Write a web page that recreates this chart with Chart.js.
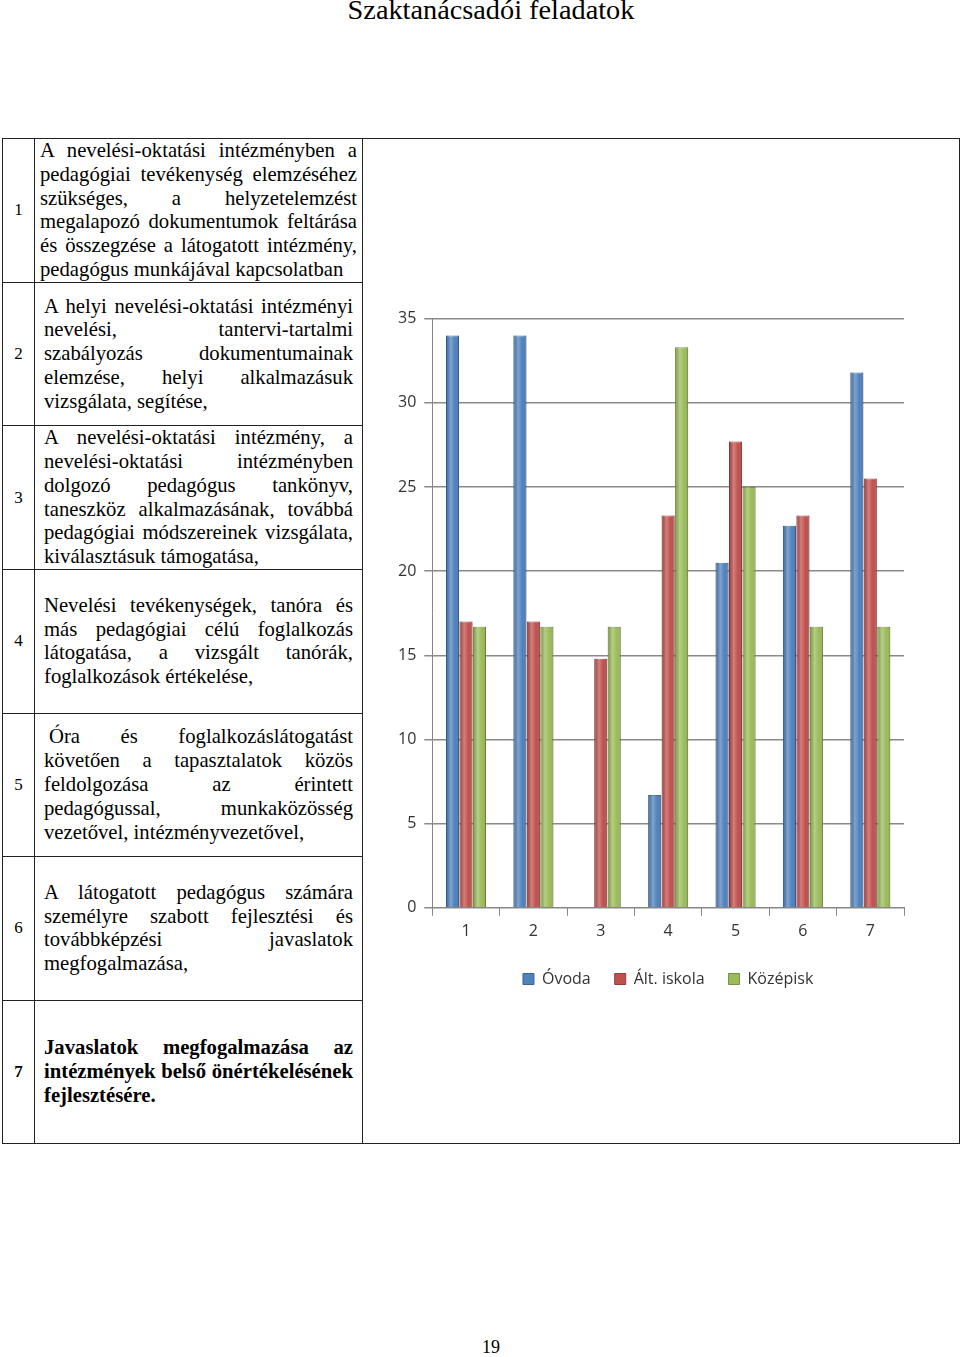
<!DOCTYPE html>
<html lang="hu">
<head>
  <meta charset="UTF-8">
  <title>Szaktanácsadói feladatok</title>
  <script src="https://cdn.jsdelivr.net/npm/chart.js"></script>
  <style>
    body {
      margin: 0;
      background: #fff;
      font-family: "Liberation Serif", "Times New Roman", serif;
      color: #000;
      position: relative;
      width: 960px;
      height: 1357px;
      overflow: hidden;
    }

    h1 {
      position: absolute;
      top: -6px;
      left: 0;
      width: 982px;
      margin: 0;
      text-align: center;
      font-size: 28.3px;
      font-weight: normal;
    }

    table {
      position: absolute;
      top: 138px;
      left: 2px;
      border-collapse: collapse;
      table-layout: fixed;
      width: 958px;
    }

    td {
      border: 1.5px solid #222;
      padding: 0;
      vertical-align: middle;
    }

    td.num {
      text-align: center;
      font-size: 17px;
    }

    td.txt {
      padding: 0 9px 0 9px;
      font-size: 20.7px;
      line-height: 23.8px;
      text-align: justify;
    }

    td.first {
      padding: 0 5px 0 5px;
      vertical-align: top;
    }

    td.indent { text-indent: 5px; }

    tr { height: 143.5px; }

    .bold { font-weight: bold; }

    #chartBox {
      position: absolute;
      left: 390px;
      top: 301px;
      width: 530px;
      height: 696px;
    }

    .pagenum {
      position: absolute;
      top: 1337px;
      left: 0;
      width: 982px;
      text-align: center;
      font-size: 18px;
    }
  </style>
</head>
<body>

  <h1>Szaktanácsadói feladatok</h1>

  <table>
    <colgroup>
      <col style="width:32px">
      <col style="width:328px">
      <col>
    </colgroup>
    <tr>
      <td class="num">1</td>
      <td class="txt first">A nevelési-oktatási intézményben a pedagógiai tevékenység elemzéséhez szükséges, a helyzetelemzést megalapozó dokumentumok feltárása és összegzése a látogatott intézmény, pedagógus munkájával kapcsolatban</td>
      <td rowspan="7"></td>
    </tr>
    <tr>
      <td class="num">2</td>
      <td class="txt">A helyi nevelési-oktatási intézményi nevelési, tantervi-tartalmi szabályozás dokumentumainak elemzése, helyi alkalmazásuk vizsgálata, segítése,</td>
    </tr>
    <tr>
      <td class="num">3</td>
      <td class="txt">A nevelési-oktatási intézmény, a nevelési-oktatási intézményben dolgozó pedagógus tankönyv, taneszköz alkalmazásának, továbbá pedagógiai módszereinek vizsgálata, kiválasztásuk támogatása,</td>
    </tr>
    <tr>
      <td class="num">4</td>
      <td class="txt">Nevelési tevékenységek, tanóra és más pedagógiai célú foglalkozás látogatása, a vizsgált tanórák, foglalkozások értékelése,</td>
    </tr>
    <tr>
      <td class="num">5</td>
      <td class="txt indent">Óra és foglalkozáslátogatást követően a tapasztalatok közös feldolgozása az érintett pedagógussal, munkaközösség vezetővel, intézményvezetővel,</td>
    </tr>
    <tr>
      <td class="num">6</td>
      <td class="txt">A látogatott pedagógus számára személyre szabott fejlesztési és továbbképzési javaslatok megfogalmazása,</td>
    </tr>
    <tr>
      <td class="num bold">7</td>
      <td class="txt bold">Javaslatok megfogalmazása az intézmények belső önértékelésének fejlesztésére.</td>
    </tr>
  </table>

  <div id="chartBox">
    <canvas id="taskChart"></canvas>
  </div>

  <div class="pagenum">19</div>

  <script>
    // task numbers on the x axis
    const categories = ["1", "2", "3", "4", "5", "6", "7"];

    // values
    const ovoda = [34, 34, 0, 6.7, 20.5, 22.7, 31.8];
    const altIskola = [17, 17, 14.8, 23.3, 27.7, 23.3, 25.5];
    const kozepisk = [16.7, 16.7, 16.7, 33.3, 25, 16.7, 16.7];

    const seriesNames = ["Óvoda", "Ált. iskola", "Középisk"];
    const yTicks = [0, 5, 10, 15, 20, 25, 30, 35];

    const ctx = document.getElementById("taskChart").getContext("2d");

    const barStyle = {
      borderWidth: 1,
      categoryPercentage: 0.6,
      barPercentage: 0.97
    };

    // light/dark overlay so the bars look a bit round, like the office 3D cylinders
    const cylinderShade = {
      id: "cylinderShade",
      afterDatasetsDraw(chart) {
        const c = chart.ctx;
        chart.data.datasets.forEach((ds, i) => {
          chart.getDatasetMeta(i).data.forEach(bar => {
            const left = bar.x - bar.width / 2;
            const h = bar.base - bar.y;
            if (h < 1) return;
            const g = c.createLinearGradient(left, 0, left + bar.width, 0);
            g.addColorStop(0, "rgba(0,0,0,0.12)");
            g.addColorStop(0.35, "rgba(255,255,255,0.28)");
            g.addColorStop(0.7, "rgba(255,255,255,0)");
            g.addColorStop(1, "rgba(0,0,0,0.18)");
            c.save();
            c.fillStyle = g;
            c.fillRect(left, bar.y, bar.width, h);
            c.restore();
          });
        });
      }
    };

    new Chart(ctx, {
      type: "bar",
      data: {
        labels: categories,
        datasets: [
          { label: seriesNames[0], data: ovoda, backgroundColor: "#4f81bd", borderColor: "#3a6496", ...barStyle },
          { label: seriesNames[1], data: altIskola, backgroundColor: "#c0504d", borderColor: "#963c3a", ...barStyle },
          { label: seriesNames[2], data: kozepisk, backgroundColor: "#9bbb59", borderColor: "#779244", ...barStyle }
        ]
      },
      options: {
        responsive: true,
        maintainAspectRatio: false,
        animation: false,
        layout: { padding: { top: 10, right: 16, left: 0, bottom: 0 } },
        plugins: {
          legend: {
            position: "bottom",
            fullSize: false,
            labels: {
              boxWidth: 11,
              boxHeight: 11,
              padding: 24,
              color: "#333",
              font: { family: "Open Sans", size: 16 }
            }
          },
          tooltip: { enabled: false }
        },
        scales: {
          x: {
            grid: { display: true, drawOnChartArea: false, tickLength: 8, color: "#868686" },
            border: { color: "#868686" },
            ticks: { color: "#333", padding: 6, font: { family: "Open Sans", size: 16 } }
          },
          y: {
            min: 0,
            max: 35,
            afterBuildTicks: axis => { axis.ticks = yTicks.map(v => ({ value: v })); },
            grid: { color: "#8a8a8a", lineWidth: 1.5, tickLength: 8 },
            border: { color: "#868686" },
            ticks: { color: "#333", padding: 8, font: { family: "Open Sans", size: 16 } }
          }
        }
      },
      plugins: [cylinderShade]
    });
  </script>

</body>
</html>
